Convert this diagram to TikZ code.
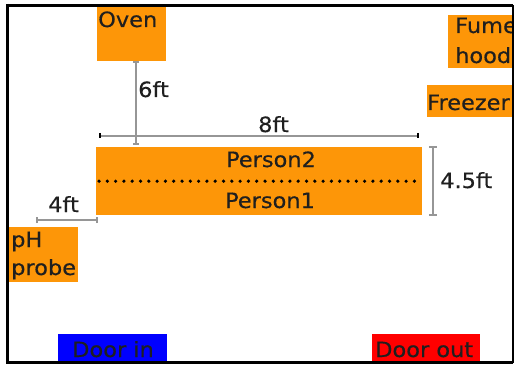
\documentclass[tikz,border=0pt]{standalone}
\usepackage{fontspec}
\setmainfont{DejaVu Sans}[FakeStretch=1.07,FakeBold=0.4]
\definecolor{bench}{RGB}{253,150,8}
\definecolor{dimgray}{RGB}{150,150,150}
\definecolor{doorblue}{RGB}{0,0,255}
\definecolor{doorred}{RGB}{255,0,0}
\begin{document}
\begin{tikzpicture}[x=1pt,y=-1pt,
  box/.style={fill=bench, draw=none, inner sep=0pt, anchor=north west},
  door/.style={draw=none, inner sep=0pt, anchor=north west},
  lbl/.style={font=\fontsize{21}{29}\selectfont, text=black!88, inner sep=0pt, anchor=base west},
  dimline/.style={draw=dimgray, line width=1.4pt},
  dimtick/.style={draw=dimgray, line width=1.4pt},
]
\useasboundingbox[fill=white] (0,0) rectangle (518,366);

% furniture blocks, clipped to the room interior
\begin{scope}
\clip (7,5) rectangle (513,362);
\node[box, minimum width=69pt, minimum height=55pt] (oven) at (97,6) {};
\node[box, minimum width=66pt, minimum height=53pt] (fume) at (448,15) {};
\node[box, minimum width=87pt, minimum height=32pt] (freezer) at (427,85) {};
\node[box, minimum width=326pt, minimum height=68pt] (bench) at (96,147) {};
\node[box, minimum width=69pt, minimum height=55pt] (ph) at (9,227) {};
\node[door, fill=doorblue, minimum width=109pt, minimum height=29pt] (doorin) at (58,334) {};
\node[door, fill=doorred, minimum width=108pt, minimum height=29pt] (doorout) at (372,334) {};

\node[lbl] at (98,27) {Oven};
\node[lbl] at (455,33) {Fume};
\node[lbl] at (455,63) {hood};
\node[lbl] at (427,110) {Freezer};
\node[lbl] at (11,247) {pH};
\node[lbl] at (11,275) {probe};
\node[lbl] at (72,357) {Door in};
\node[lbl] at (375,357) {Door out};
\end{scope}

% the two work places on the bench
\coordinate (split-w) at ([xshift=3pt]bench.west);
\coordinate (split-e) at ([xshift=-4pt]bench.east);
\draw[black, line width=3.6pt, dash pattern=on 0pt off 8.3pt, line cap=round] (split-w) -- (split-e);
\node[lbl, anchor=base] at (271,167) {Person2};
\node[lbl, anchor=base] at (270,208) {Person1};

% 6ft: oven to bench
\coordinate (six-a) at (136,62);
\coordinate (six-b) at (136,144);
\draw[dimline] (six-a) -- (six-b);
\draw[dimtick] ([xshift=-3pt]six-a) -- ([xshift=3pt]six-a);
\draw[dimtick] ([xshift=-3pt]six-b) -- ([xshift=3pt]six-b);
\node[lbl] at (138,97) {6ft};

% 8ft: bench length
\coordinate (eight-a) at (100,136);
\coordinate (eight-b) at (418,136);
\draw[dimline] (eight-a) -- (eight-b);
\draw[black, line width=2.4pt] ([yshift=3pt]eight-a) -- ([yshift=-2pt]eight-a);
\draw[black, line width=2.4pt] ([yshift=3pt]eight-b) -- ([yshift=-2pt]eight-b);
\node[lbl] at (258,132) {8ft};

% 4.5ft: bench depth
\coordinate (depth-a) at (433,147);
\coordinate (depth-b) at (433,215);
\draw[dimline] (depth-a) -- (depth-b);
\draw[dimtick] ([xshift=-4pt]depth-a) -- ([xshift=4pt]depth-a);
\draw[dimtick] ([xshift=-4pt]depth-b) -- ([xshift=4pt]depth-b);
\node[lbl] at (440,188) {4.5ft};

% 4ft: wall gap to bench
\coordinate (gap-a) at (37,220);
\coordinate (gap-b) at (97,220);
\draw[dimline] (gap-a) -- (gap-b);
\draw[dimtick] ([yshift=-3pt]gap-a) -- ([yshift=3pt]gap-a);
\draw[dimtick] ([yshift=-3pt]gap-b) -- ([yshift=3pt]gap-b);
\node[lbl] at (48,212) {4ft};

% room walls
\draw[black, line width=3pt] (7.5,5.5) -- (513,5.5);
\draw[black, line width=2pt] (513,5) -- (513,362.5);
\draw[black, line width=3pt] (513,362.5) -- (7.5,362.5);
\draw[black, line width=3.5pt] (7.5,4) -- (7.5,364);
\end{tikzpicture}
\end{document}
